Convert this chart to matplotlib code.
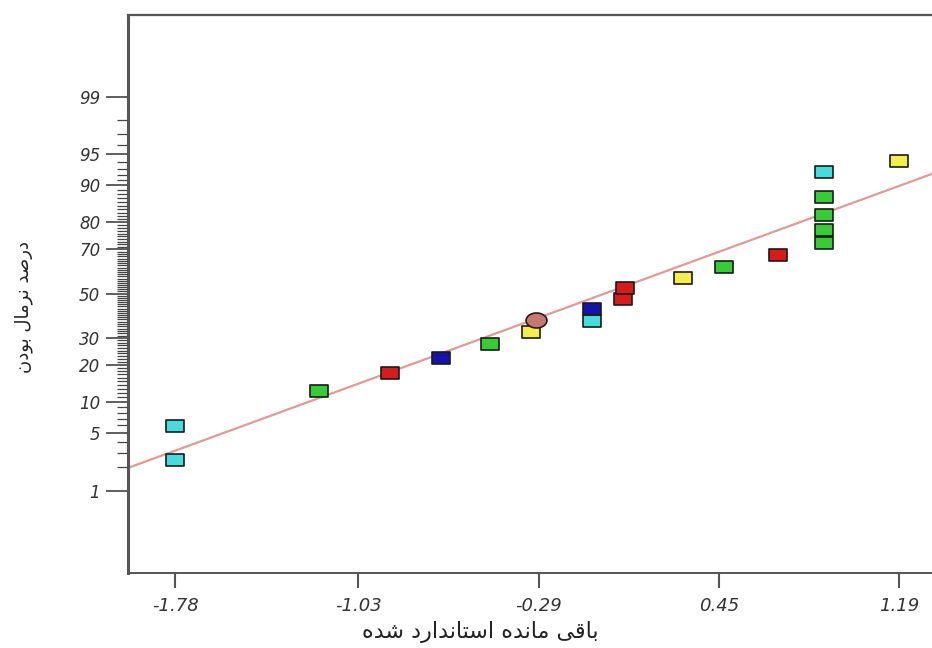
from statistics import NormalDist
import numpy as np
import matplotlib
matplotlib.use("Agg")
import matplotlib.pyplot as plt
from matplotlib.path import Path

# standardized residuals and normal % probability
resid = [-1.78, -1.78, -1.19, -0.90, -0.69, -0.49, -0.32, -0.07, -0.07, 0.057,
         0.064, 0.30, 0.47, 0.69, 0.88, 0.88, 0.88, 0.88, 0.88, 1.19]
prob = [2.5, 5.9, 12.5, 17.5, 22.4, 27.4, 32.6, 37.4, 42.6, 47.4,
        52.6, 57.4, 62.4, 67.4, 72.4, 77.4, 82.4, 87.4, 92.4, 94.1]
pt_color = ["cyan", "cyan", "green", "red", "blue", "green", "yellow", "cyan", "blue", "red",
            "red", "yellow", "green", "red", "green", "green", "green", "green", "cyan", "yellow"]

# the round point (center point)
center_resid = -0.30
center_prob = 37.9

# fitted normal line  z = a + b * resid
fit_intercept = 0.02
fit_slope = 1.053

xticks = [-1.78, -1.03, -0.29, 0.45, 1.19]
yticks = [1, 5, 10, 20, 30, 50, 70, 80, 90, 95, 99]

palette = {"cyan": "#44dcdc", "green": "#35cc35", "red": "#d81c1c",
           "blue": "#1414aa", "yellow": "#f2ee4a"}

nd = NormalDist()
def z(p):
    return nd.inv_cdf(p / 100.0)

# persian labels: arabic presentation forms, reversed to visual order
ylab = "\uFEA9\uFEAD\uFEBB\uFEAA \uFEE7\uFEAE\uFEE3\uFE8E\uFEDD \uFE91\uFEEE\uFEA9\uFEE5"[::-1]
xlab = ("\uFE91\uFE8E\uFED7\uFBFD \uFEE3\uFE8E\uFEE7\uFEAA\uFEE9 "
        "\uFE8D\uFEB3\uFE98\uFE8E\uFEE7\uFEAA\uFE8D\uFEAD\uFEA9 \uFEB7\uFEAA\uFEE9")[::-1]

# wide rectangle marker like the original
rect = Path([(-1, -0.68), (1, -0.68), (1, 0.68), (-1, 0.68), (-1, -0.68)],
            [Path.MOVETO, Path.LINETO, Path.LINETO, Path.LINETO, Path.CLOSEPOLY])
ell_t = np.linspace(0, 2 * np.pi, 60)
ell = Path(np.column_stack([np.cos(ell_t), 0.72 * np.sin(ell_t)]))

W, H = 932, 648
fig = plt.figure(figsize=(W / 100, H / 100), dpi=100)
ax = fig.add_axes([128 / W, 1 - 573 / H, (965 - 128) / W, (573 - 15) / H])

px_per_unit = 243.8
x0 = -1.78 - (175.4 - 128) / px_per_unit
x1 = -1.78 + (965 - 175.4) / px_per_unit
ax.set_xlim(x0, x1)
ax.set_ylim(-3.30, 3.29)

xs = np.array([x0, x1])
ax.plot(xs, fit_intercept + fit_slope * xs, color="#e39a94", lw=1.6, zorder=2)

for i in range(len(resid)):
    ax.plot(resid[i], z(prob[i]), marker=rect, ms=13.5, mfc=palette[pt_color[i]],
            mec="#1a1a1a", mew=1.2, ls="none", zorder=3)
    if i == 6:
        ax.plot(center_resid, z(center_prob), marker=ell, ms=15, mfc="#c47a6e",
                mec="#2a1a1a", mew=1.2, ls="none", zorder=3)

ax.set_xticks(xticks)
ax.set_xticklabels(["%.2f" % v for v in xticks], fontstyle="italic", fontsize=13,
                   color="#333333")
ax.set_yticks([z(p) for p in yticks])
ax.set_yticklabels([str(p) for p in yticks], fontstyle="italic", fontsize=12,
                   color="#333333")
minor = [p for p in range(2, 99) if p not in yticks]
ax.set_yticks([z(p) for p in minor], minor=True)

ax.tick_params(axis="x", direction="out", length=11, width=1.5, color="#555555", pad=6)
ax.tick_params(axis="y", which="major", direction="out", length=16, width=1.2,
               color="#444444", pad=4)
ax.tick_params(axis="y", which="minor", direction="out", length=8, width=0.9,
               color="#444444")

for s in ["left", "top", "bottom"]:
    ax.spines[s].set_color("#555555")
ax.spines["left"].set_linewidth(2.2)
ax.spines["top"].set_linewidth(1.6)
ax.spines["bottom"].set_linewidth(1.4)
ax.spines["right"].set_visible(False)

fig.text(480 / W, 1 - 632 / H, xlab, ha="center", va="center", fontsize=16,
         family="DejaVu Sans", color="#222222")
fig.text(24 / W, 1 - 307 / H, ylab, ha="center", va="center", rotation=90,
         fontsize=13, family="DejaVu Sans", color="#222222")

fig.savefig("out.png", dpi=100)
